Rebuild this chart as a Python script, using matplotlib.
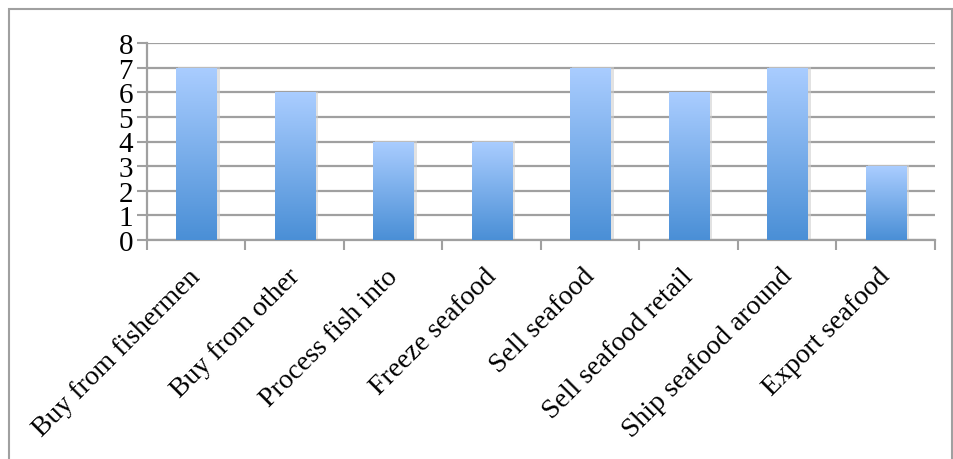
import numpy as np
import matplotlib.pyplot as plt
import matplotlib.transforms as mtrans
from matplotlib.patches import Rectangle
from matplotlib.colors import LinearSegmentedColormap

categories = ['Buy from fishermen', 'Buy from other', 'Process fish into', 'Freeze seafood',
              'Sell seafood', 'Sell seafood retail', 'Ship seafood around', 'Export seafood']
values = [7, 6, 4, 4, 7, 6, 7, 3]
yticks = [0, 1, 2, 3, 4, 5, 6, 7, 8]

plt.rcParams['font.family'] = ['Liberation Serif', 'DejaVu Serif']

W, H = 954, 460
fig = plt.figure(figsize=(W / 100, H / 100), dpi=100)
ax = fig.add_axes([147 / W, 1 - 241 / H, (935 - 147) / W, (241 - 44) / H])

x = np.arange(len(categories))
bw = 0.41
cmap = LinearSegmentedColormap.from_list('g', ['#4a8fd6', '#aacdff'])
grad = np.linspace(0, 1, 256).reshape(-1, 1)

for xi, v in zip(x, values):
    # soft shadow
    ax.add_patch(Rectangle((xi - bw / 2 + 0.02, 0), bw + 0.015, v + 0.03,
                           facecolor='#d0d0d0', edgecolor='none', alpha=0.6, zorder=2))
    im = ax.imshow(grad, cmap=cmap, origin='lower', aspect='auto',
                   extent=(xi - bw / 2, xi + bw / 2, 0, v), zorder=3)
    r = Rectangle((xi - bw / 2, 0), bw, v, transform=ax.transData,
                  facecolor='none', edgecolor='none')
    ax.add_patch(r)
    im.set_clip_path(r)

ax.set_xlim(-0.5, len(categories) - 0.5)
ax.set_ylim(0, 8)
ax.set_yticks(yticks)
ax.set_yticklabels([str(t) for t in yticks], fontsize=21)
ax.yaxis.grid(True, color='#a0a0a0', linewidth=1.6, zorder=1)
ax.set_axisbelow(True)

ax.set_xticks(x)
ax.set_xticklabels(categories, rotation=45, ha='right', rotation_mode='anchor', fontsize=20)
ax.tick_params(axis='x', length=0, pad=14)
shift = mtrans.ScaledTranslation(-8 / 100, -4 / 100, fig.dpi_scale_trans)
for lab in ax.get_xticklabels():
    lab.set_transform(lab.get_transform() + shift)
ax.set_xticks(np.arange(len(categories) + 1) - 0.5, minor=True)
ax.tick_params(axis='x', which='minor', length=7, width=1.5, color='#a0a0a0')
ax.tick_params(axis='y', length=7, width=1.5, color='#a0a0a0', pad=3)

for s in ['top', 'right']:
    ax.spines[s].set_visible(False)
for s in ['left', 'bottom']:
    ax.spines[s].set_color('#a0a0a0')
    ax.spines[s].set_linewidth(1.6)

fig.patches.append(Rectangle((9 / W, -0.01), (952 - 9) / W, 1 - 10 / H + 0.01,
                             transform=fig.transFigure, fill=False,
                             edgecolor='#a0a0a0', linewidth=1.5))

fig.savefig('out.png', dpi=100)
